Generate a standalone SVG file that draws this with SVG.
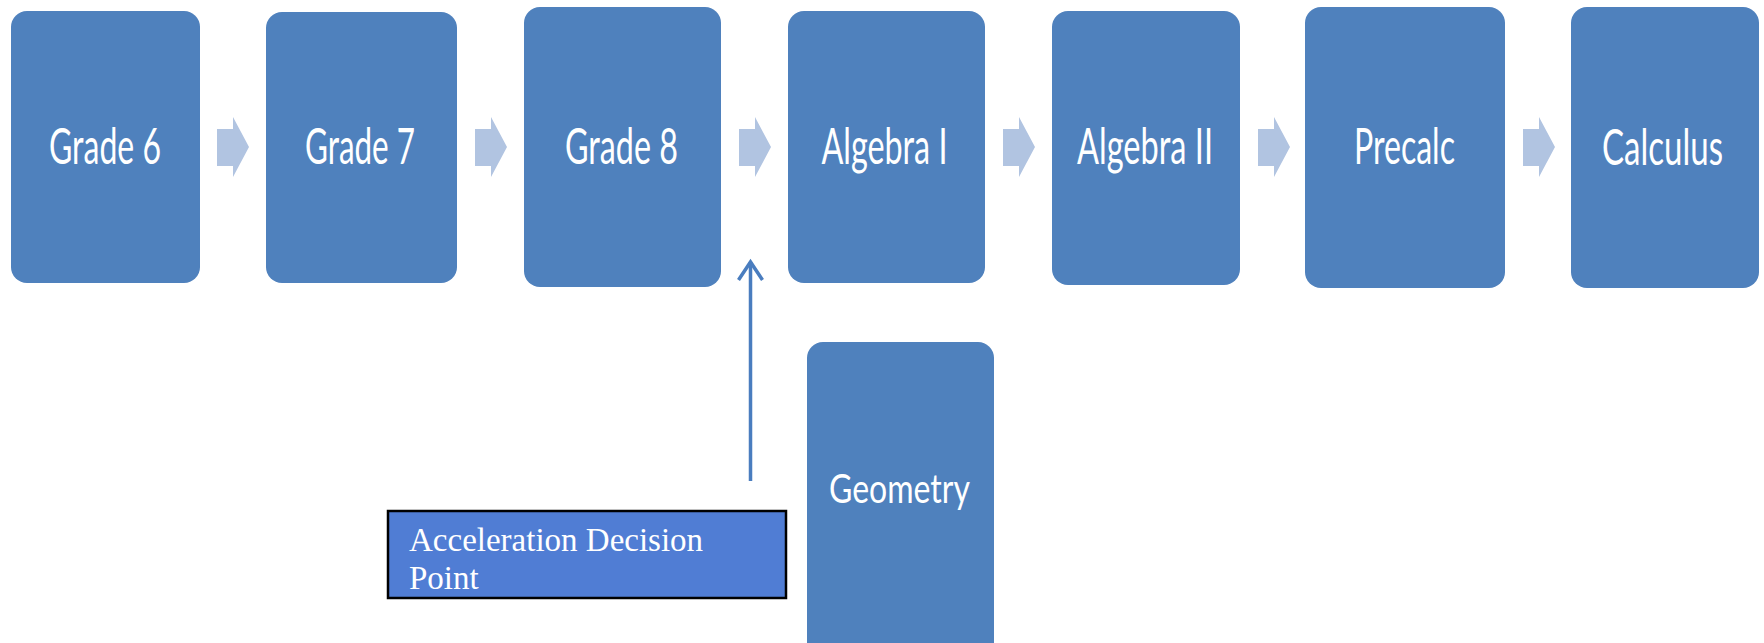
<svg xmlns="http://www.w3.org/2000/svg" width="1764" height="643" viewBox="0 0 1764 643">
<style>
.node{fill:#4f81bd;}
.lbl{font-family:Lato,"Open Sans","Liberation Sans",sans-serif;font-size:50px;fill:#ffffff;text-anchor:middle;}
.geo{font-size:41px;}
.blk{fill:#b1c4e1;}
.note{fill:#507dd4;stroke:#000000;stroke-width:2.5;}
.ntxt{font-family:"Liberation Serif",serif;font-size:33px;fill:#ffffff;}
.up{stroke:#4a7dbf;stroke-width:3.5;fill:none;}
</style>
<defs>
<path id="blockArrow" d="M0,12 H16 V0 L32,30 L16,60 V49 H0 Z"/>
<marker id="openHead" markerUnits="userSpaceOnUse" markerWidth="30" markerHeight="30" refX="20" refY="15" orient="auto" viewBox="0 0 30 30">
<path d="M2,3 L20,15 L2,27" fill="none" stroke="#4a7dbf" stroke-width="3.5"/>
</marker>
</defs>
<rect width="1764" height="643" fill="#ffffff"/>
<g id="connectors">
<use href="#blockArrow" class="blk" x="217" y="117"/>
<use href="#blockArrow" class="blk" x="475" y="117"/>
<use href="#blockArrow" class="blk" x="739" y="117"/>
<use href="#blockArrow" class="blk" x="1003" y="117"/>
<use href="#blockArrow" class="blk" x="1258" y="117"/>
<use href="#blockArrow" class="blk" x="1523" y="117"/>
<line class="up" x1="750.5" y1="481" x2="750.5" y2="262" marker-end="url(#openHead)"/>
</g>
<g id="grade6"><rect class="node" x="11" y="11" width="189" height="272" rx="16"/><text class="lbl" x="105" y="164" textLength="112" lengthAdjust="spacingAndGlyphs">Grade 6</text></g>
<g id="grade7"><rect class="node" x="266" y="12" width="191" height="271" rx="16"/><text class="lbl" x="360" y="164" textLength="110" lengthAdjust="spacingAndGlyphs">Grade 7</text></g>
<g id="grade8"><rect class="node" x="524" y="7" width="197" height="280" rx="16"/><text class="lbl" x="621.5" y="164" textLength="113" lengthAdjust="spacingAndGlyphs">Grade 8</text></g>
<g id="algebra1"><rect class="node" x="788" y="11" width="197" height="272" rx="16"/><text class="lbl" x="884.5" y="164" textLength="126" lengthAdjust="spacingAndGlyphs">Algebra I</text></g>
<g id="algebra2"><rect class="node" x="1052" y="11" width="188" height="274" rx="16"/><text class="lbl" x="1145" y="164" textLength="136" lengthAdjust="spacingAndGlyphs">Algebra II</text></g>
<g id="precalc"><rect class="node" x="1305" y="7" width="200" height="281" rx="16"/><text class="lbl" x="1404.5" y="164" textLength="101" lengthAdjust="spacingAndGlyphs">Precalc</text></g>
<g id="calculus"><rect class="node" x="1571" y="7" width="188" height="281" rx="16"/><text class="lbl" x="1662.5" y="165" textLength="121" lengthAdjust="spacingAndGlyphs">Calculus</text></g>
<g id="geometry"><rect class="node" x="807" y="342" width="187" height="330" rx="16"/><text class="lbl geo" x="899.5" y="503" textLength="141" lengthAdjust="spacingAndGlyphs">Geometry</text></g>
<g id="decision"><rect class="note" x="388" y="511" width="398" height="87"/><text class="ntxt" x="409" y="551">Acceleration Decision</text><text class="ntxt" x="409" y="589">Point</text></g>
</svg>
